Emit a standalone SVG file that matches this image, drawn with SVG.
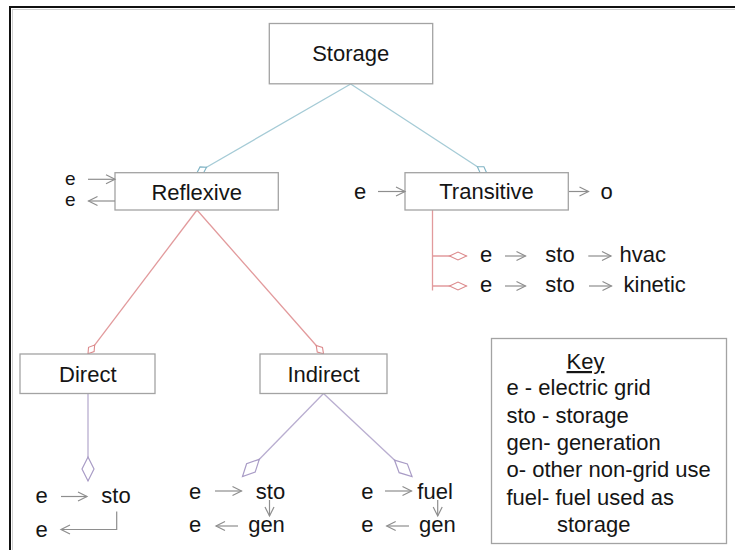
<svg xmlns="http://www.w3.org/2000/svg" width="735" height="550" viewBox="0 0 735 550">
  <style>
    text { font-family: "Liberation Sans", Arial, sans-serif; font-size: 22px; fill: #151515; }
    .mid { text-anchor: middle; }
    .tight { font-size: 19px; }
    .box { fill: #ffffff; stroke: #a3a3a3; stroke-width: 1.3; }
    .blue { fill: none; stroke: #a5cbd6; stroke-width: 1.3; }
    .red { fill: none; stroke: #e29a9c; stroke-width: 1.3; }
    .purple { fill: none; stroke: #b9aed0; stroke-width: 1.3; }
    .flow { fill: none; stroke: #8e8e8e; stroke-width: 1.2; marker-end: url(#arrow); }
  </style>
  <defs>
    <marker id="dmSmallBlue" viewBox="0 0 11 7" refX="11" refY="3.5" markerWidth="11" markerHeight="7" markerUnits="userSpaceOnUse" orient="auto" overflow="visible">
      <path d="M0,3.5 L5.5,0 L11,3.5 L5.5,7 Z" fill="#ffffff" stroke="#7fb3c4" stroke-width="1.1"/>
    </marker>
    <marker id="dmSmallRed" viewBox="0 0 11 7" refX="11" refY="3.5" markerWidth="11" markerHeight="7" markerUnits="userSpaceOnUse" orient="auto" overflow="visible">
      <path d="M0,3.5 L5.5,0 L11,3.5 L5.5,7 Z" fill="#ffffff" stroke="#dc8a8c" stroke-width="1.1"/>
    </marker>
    <marker id="dmMidRed" viewBox="0 0 17 8" refX="17" refY="4" markerWidth="17" markerHeight="8" markerUnits="userSpaceOnUse" orient="auto" overflow="visible">
      <path d="M0,4 L8.5,0 L17,4 L8.5,8 Z" fill="#ffffff" stroke="#dc8a8c" stroke-width="1.1"/>
    </marker>
    <marker id="dmLarge" viewBox="0 0 24 12" refX="24" refY="6" markerWidth="24" markerHeight="12" markerUnits="userSpaceOnUse" orient="auto" overflow="visible">
      <path d="M0,6 L12,0 L24,6 L12,12 Z" fill="#ffffff" stroke="#a99cc6" stroke-width="1.2"/>
    </marker>
    <marker id="arrow" viewBox="0 0 9 10" refX="9" refY="5" markerWidth="9" markerHeight="10" markerUnits="userSpaceOnUse" orient="auto" overflow="visible">
      <path d="M0,0.5 L9,5 L0,9.5" fill="none" stroke="#8e8e8e" stroke-width="1.2"/>
    </marker>
  </defs>

  <rect width="735" height="550" fill="#ffffff"/>
  <!-- outer frame -->
  <rect x="12.5" y="9.5" width="800" height="600" fill="none" stroke="#d0d0d0" stroke-width="1"/>
  <rect x="10" y="7" width="800" height="600" fill="none" stroke="#111111" stroke-width="2"/>

  <!-- hierarchy links -->
  <g id="connectors">
    <path class="blue" d="M350.7,84 L197,172.7" marker-end="url(#dmSmallBlue)"/>
    <path class="blue" d="M350.7,84 L486.6,172.7" marker-end="url(#dmSmallBlue)"/>
    <path class="red" d="M197,210 L88,353.8" marker-end="url(#dmSmallRed)"/>
    <path class="red" d="M197,210 L323.5,353.8" marker-end="url(#dmSmallRed)"/>
    <path class="red" d="M432.5,210 L432.5,290.5"/>
    <path class="red" d="M432.5,256 L466.5,256" marker-end="url(#dmMidRed)"/>
    <path class="red" d="M432.5,286 L466.5,286" marker-end="url(#dmMidRed)"/>
    <path class="purple" d="M88,393.5 L88,481" marker-end="url(#dmLarge)"/>
    <path class="purple" d="M323.5,393.5 L242.5,476.5" marker-end="url(#dmLarge)"/>
    <path class="purple" d="M323.5,393.5 L412,476.5" marker-end="url(#dmLarge)"/>
  </g>

  <g id="storage">
    <rect class="box" x="269.3" y="23.5" width="163.4" height="60.3"/>
    <text class="mid" x="350.7" y="61">Storage</text>
  </g>

  <g id="reflexive">
    <rect class="box" x="115" y="172.7" width="163.3" height="37.3"/>
    <text class="mid" x="196.7" y="199.5">Reflexive</text>
    <text class="mid tight" x="70.3" y="184.5">e</text>
    <text class="mid tight" x="70.3" y="206">e</text>
    <path class="flow" d="M88,179.3 L115,179.3"/>
    <path class="flow" d="M115,201 L88.5,201"/>
  </g>

  <g id="transitive">
    <rect class="box" x="405" y="172.7" width="163.3" height="37.3"/>
    <text class="mid" x="486.5" y="198.5">Transitive</text>
    <text class="mid" x="360" y="198.5">e</text>
    <path class="flow" d="M378,191.5 L405,191.5"/>
    <path class="flow" d="M569,191.5 L588.5,191.5"/>
    <text class="mid" x="606.7" y="198.5">o</text>
    <text class="mid" x="486" y="262">e</text>
    <path class="flow" d="M505,256 L525.5,256"/>
    <text class="mid" x="560" y="262">sto</text>
    <path class="flow" d="M588.3,256 L611,256"/>
    <text x="619.5" y="262">hvac</text>
    <text class="mid" x="486" y="292">e</text>
    <path class="flow" d="M505,286 L525.5,286"/>
    <text class="mid" x="560" y="292">sto</text>
    <path class="flow" d="M589,286 L611.5,286"/>
    <text x="623.5" y="292">kinetic</text>
  </g>

  <g id="direct">
    <rect class="box" x="20" y="354" width="135" height="39.5"/>
    <text class="mid" x="87.8" y="382">Direct</text>
    <text class="mid" x="41.7" y="503">e</text>
    <path class="flow" d="M61,496.5 L87,496.5"/>
    <text class="mid" x="116" y="503">sto</text>
    <path class="flow" d="M116.7,511.5 L116.7,529.5 L61,529.5"/>
    <text class="mid" x="41.7" y="536.5">e</text>
  </g>

  <g id="indirect">
    <rect class="box" x="260" y="354" width="127" height="39.5"/>
    <text class="mid" x="323.5" y="382">Indirect</text>
    <text class="mid" x="195" y="499">e</text>
    <path class="flow" d="M215,491 L241.5,491"/>
    <text class="mid" x="270.5" y="499">sto</text>
    <path class="flow" d="M269.5,500 L269.5,516"/>
    <text class="mid" x="195" y="532">e</text>
    <path class="flow" d="M238,526 L216,526"/>
    <text class="mid" x="266.5" y="532">gen</text>
    <text class="mid" x="367.3" y="499">e</text>
    <path class="flow" d="M385,491 L411.5,491"/>
    <text x="417.3" y="499">fuel</text>
    <path class="flow" d="M437.7,500 L437.7,516"/>
    <text class="mid" x="367.3" y="532">e</text>
    <path class="flow" d="M409,526 L386.7,526"/>
    <text x="419" y="532">gen</text>
  </g>

  <g id="key">
    <rect class="box" x="491.5" y="338.5" width="235" height="205"/>
    <text class="mid" x="585.5" y="369" text-decoration="underline">Key</text>
    <text x="506.5" y="395">e - electric grid</text>
    <text x="506.5" y="422.5">sto - storage</text>
    <text x="506.5" y="450">gen- generation</text>
    <text x="506.5" y="477">o- other non-grid use</text>
    <text x="506.5" y="504.5">fuel- fuel used as</text>
    <text x="557" y="532">storage</text>
  </g>
</svg>
